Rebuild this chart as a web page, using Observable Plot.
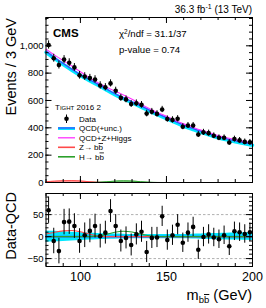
<!DOCTYPE html>
<html><head><meta charset="utf-8">
<script src="https://cdn.jsdelivr.net/npm/d3@7"></script>
<script src="https://cdn.jsdelivr.net/npm/@observablehq/plot@0.6"></script>
<style>
body{margin:0;background:#fff;}
#chart{position:relative;width:266px;height:308px;overflow:hidden;}
#chart > svg{position:absolute;left:0;}
</style></head><body><div id="chart"></div>
<script>
// ---- data ----
const binMass = [81.5,84.5,87.5,90.5,93.5,96.5,99.5,102.5,105.5,108.5,111.5,114.5,117.5,120.5,123.5,126.5,129.5,132.5,135.5,138.5,141.5,144.5,147.5,150.5,153.5,156.5,159.5,162.5,165.5,168.5,171.5,174.5,177.5,180.5,183.5,186.5,189.5,192.5,195.5,198.5];
const events = [1006,909,859,899,876,842,784,775,764,754,710,697,725,671,619,608,574,580,568,504,518,502,534,464,458,466,408,417,417,351,367,361,342,327,327,293,318,308,297,294];
const eventErr = [30,29,29,29,29,28,28,28,27,27,27,26,26,26,25,25,25,24,24,24,24,23,23,23,23,23,22,22,22,22,22,22,21,21,21,21,21,21,21,21];
const residual = [60,-10,-33,33,34,24,-10,3,13,24,1,9,58,24,-10,-3,-19,5,11,-35,-3,-2,46,-8,3,27,-14,9,22,-30,-1,5,-2,-6,3,-22,12,10,6,10];
const fitMass = [80,85,90,95,100,105,110,115,120,125,130,135,140,145,150,155,160,165,170,175,180,185,190,195,200];
const qcdFit  = [960,913,870,829,790,754,720,685,650,620,590,560,530,502,475,447,420,397,375,355,335,319,305,292,280];
const qcdUnc  = [13,12,11,10,9,8,7,6.5,6,5.5,5,5,5,5,5,5,5,5.5,6,6.5,7,7.5,8,8.5,9];
const zSignal = [6,10,13,14,11,6,1.5,0,0,0,0,0,0,0,0,0,0,0,0,0,0,0,0,0,0];
const hSignal = [0,0,0,0,0,0,1,5,10,12,10.5,6,2,0.3,0,0,0,0,0,0,0,0,0,0,0];
const xTicks = [100,150,200];
const xMinor = [80,90,100,110,120,130,140,150,160,170,180,190,200];
const yTicksTop = [0,200,400,600,800,1000];
const yMinorTop = [0,50,100,150,200,250,300,350,400,450,500,550,600,650,700,750,800,850,900,950,1000,1050,1100,1150,1200];
const yTicksBottom = [-50,0,50];
const yMinorBottom = [-60,-50,-40,-30,-20,-10,0,10,20,30,40,50,60,70,80,90];

const dataRows = binMass.map((m,i)=>({m, n: events[i], e: eventErr[i], r: residual[i]}));
const fitRows = fitMass.map((m,i)=>({m, qcd: qcdFit[i], unc: qcdUnc[i], z: zSignal[i], h: hSignal[i], tot: qcdFit[i]+zSignal[i]+hSignal[i]}));

const W = 266, ML = 45.5, MR = 14;
const FW = W - ML - MR;
const font = "'Liberation Sans', Arial, Helvetica, sans-serif";
const C_CYAN = "#00e8ff", C_BLUE = "#3a4cff", C_MAG = "#ff33ff", C_RED = "#ff4a4a", C_GREEN = "#2ca02c";

function frameTicks(fh, xMaj, xMin, yMaj, yMin) {
  const L1 = 6, L2 = 3;
  return [
    Plot.tickX(xMaj, {x: d=>d, insetBottom: fh - L1, stroke: "black"}),
    Plot.tickX(xMaj, {x: d=>d, insetTop: fh - L1, stroke: "black"}),
    Plot.tickX(xMin, {x: d=>d, insetBottom: fh - L2, stroke: "black"}),
    Plot.tickX(xMin, {x: d=>d, insetTop: fh - L2, stroke: "black"}),
    Plot.tickY(yMaj, {y: d=>d, insetRight: FW - L1, stroke: "black"}),
    Plot.tickY(yMaj, {y: d=>d, insetLeft: FW - L1, stroke: "black"}),
    Plot.tickY(yMin, {y: d=>d, insetRight: FW - L2, stroke: "black"}),
    Plot.tickY(yMin, {y: d=>d, insetLeft: FW - L2, stroke: "black"})
  ];
}

// ---- top panel ----
const topH = 186, topMT = 17, topMB = 4;
const topPlot = Plot.plot({
  width: W, height: topH, marginLeft: ML, marginRight: MR, marginTop: topMT, marginBottom: topMB,
  style: {fontFamily: font, fontSize: "9.5px", background: "transparent", overflow: "visible"},
  x: {domain: [80, 200], axis: null},
  y: {domain: [0, 1207]},
  marks: [
    Plot.areaY(fitRows, {x: "m", y: "z", fill: C_RED, fillOpacity: 0.55, curve: "monotone-x"}),
    Plot.areaY(fitRows, {x: "m", y: "h", fill: C_GREEN, fillOpacity: 0.55, curve: "monotone-x"}),
    Plot.lineY(fitRows, {x: "m", y: "z", stroke: C_RED, strokeWidth: 1, curve: "monotone-x"}),
    Plot.lineY(fitRows, {x: "m", y: "h", stroke: C_GREEN, strokeWidth: 1, curve: "monotone-x"}),
    Plot.lineY(fitRows, {x: "m", y: "qcd", stroke: C_CYAN, strokeWidth: 3.5, dy: 1, curve: "natural"}),
    Plot.lineY(fitRows, {x: "m", y: "qcd", stroke: C_BLUE, strokeWidth: 1.3, curve: "natural"}),
    Plot.lineY(fitRows, {x: "m", y: "tot", stroke: C_MAG, strokeWidth: 1.1, dy: -1.2, curve: "natural"}),
    Plot.ruleX(dataRows, {x: "m", y1: d=>d.n - d.e, y2: d=>d.n + d.e, stroke: "black", strokeWidth: 1}),
    Plot.dot(dataRows, {x: "m", y: "n", r: 2.3, fill: "black", stroke: "none"}),
    Plot.frame({stroke: "black", strokeWidth: 1}),
    ...frameTicks(topH - topMT - topMB, xTicks, xMinor, yTicksTop, yMinorTop),
    Plot.axisY(yTicksTop, {tickSize: 0, tickPadding: 2.5, label: null, fontSize: 9.5})
  ]
});
topPlot.style.top = "0px";

// ---- bottom panel ----
const botTop = 186, botH = 122, botMT = 7, botMB = 42;
const botPlot = Plot.plot({
  width: W, height: botH, marginLeft: ML, marginRight: MR, marginTop: botMT, marginBottom: botMB,
  style: {fontFamily: font, fontSize: "9.5px", background: "transparent", overflow: "visible"},
  x: {domain: [80, 200]},
  y: {domain: [-68, 98]},
  marks: [
    Plot.ruleY([-50, 50], {stroke: "#9a9a9a", strokeWidth: 0.8, strokeDasharray: "2.5,2"}),
    Plot.areaY(fitRows, {x: "m", y1: d=>-d.unc, y2: d=>d.unc, fill: C_CYAN, curve: "natural"}),
    Plot.ruleY([0], {stroke: C_BLUE, strokeWidth: 1.6}),
    Plot.lineY(fitRows, {x: "m", y: "z", stroke: C_RED, strokeWidth: 1.1, curve: "monotone-x"}),
    Plot.lineY(fitRows, {x: "m", y: "h", stroke: C_GREEN, strokeWidth: 1.1, curve: "monotone-x"}),
    Plot.ruleX(dataRows, {x: "m", y1: d=>d.r - d.e, y2: d=>d.r + d.e, stroke: "black", strokeWidth: 1}),
    Plot.dot(dataRows, {x: "m", y: "r", r: 2.3, fill: "black", stroke: "none"}),
    Plot.frame({stroke: "black", strokeWidth: 1}),
    ...frameTicks(botH - botMT - botMB, xTicks, xMinor, yTicksBottom, yMinorBottom),
    Plot.axisY(yTicksBottom, {tickSize: 0, tickPadding: 2.5, label: null, fontSize: 9.5, tickFormat: d => d < 0 ? "\u2212" + Math.abs(d) : String(d)}),
    Plot.axisX(xTicks, {tickSize: 0, tickPadding: 6, label: null, fontSize: 12.5})
  ]
});
botPlot.style.top = botTop + "px";

const chart = document.getElementById("chart");
chart.appendChild(topPlot);
chart.appendChild(botPlot);

// ---- annotations, labels and legend ----
const NS = "http://www.w3.org/2000/svg";
const ov = document.createElementNS(NS, "svg");
ov.setAttribute("width", W); ov.setAttribute("height", 308);
ov.style.position = "absolute"; ov.style.left = "0"; ov.style.top = "0";
ov.style.fontFamily = font;
ov.innerHTML = `
<text x="252" y="13" text-anchor="end" font-size="10">36.3 fb<tspan font-size="7" dy="-4">-1</tspan><tspan dy="4"> (13 TeV)</tspan></text>
<text x="53" y="37" font-size="11.5" font-weight="bold">CMS</text>
<text x="119" y="37" font-size="9.6">χ<tspan font-size="6.5" dy="-3.5">2</tspan><tspan dy="3.5">/ndf = 31.1/37</tspan></text>
<text x="119" y="53" font-size="9.6">p-value = 0.74</text>
<text transform="translate(16,18) rotate(-90)" text-anchor="end" font-size="14.5">Events / 3 GeV</text>
<text transform="translate(16,192) rotate(-90)" text-anchor="end" font-size="14.5">Data-QCD</text>
<text x="252" y="300" text-anchor="end" font-size="14.5">m<tspan font-size="9.5" dy="3">b</tspan><tspan font-size="9.5" style="text-decoration:overline">b</tspan><tspan dy="-3"> (GeV)</tspan></text>
<g font-size="8">
  <text x="55" y="109.5" font-variant="small-caps">Tight 2016 2</text>
  <line x1="66.5" x2="66.5" y1="114.5" y2="123" stroke="black" stroke-width="1"/>
  <circle cx="66.5" cy="118.7" r="2.3" fill="black"/>
  <text x="79" y="121.5">Data</text>
  <line x1="58" x2="75" y1="128.5" y2="128.5" stroke="${C_CYAN}" stroke-width="3"/>
  <line x1="58" x2="75" y1="128" y2="128" stroke="${C_BLUE}" stroke-width="1.3"/>
  <text x="79" y="131">QCD(+unc.)</text>
  <line x1="58" x2="75" y1="137.8" y2="137.8" stroke="${C_MAG}" stroke-width="1.3"/>
  <text x="79" y="140.5">QCD+Z+Higgs</text>
  <line x1="58" x2="75" y1="147.3" y2="147.3" stroke="${C_RED}" stroke-width="1.6"/>
  <text x="79" y="150">Z→ b<tspan style="text-decoration:overline">b</tspan></text>
  <line x1="58" x2="75" y1="156.8" y2="156.8" stroke="${C_GREEN}" stroke-width="1.6"/>
  <text x="79" y="159.5">H→ b<tspan style="text-decoration:overline">b</tspan></text>
</g>`;
chart.appendChild(ov);
</script>
</body></html>
